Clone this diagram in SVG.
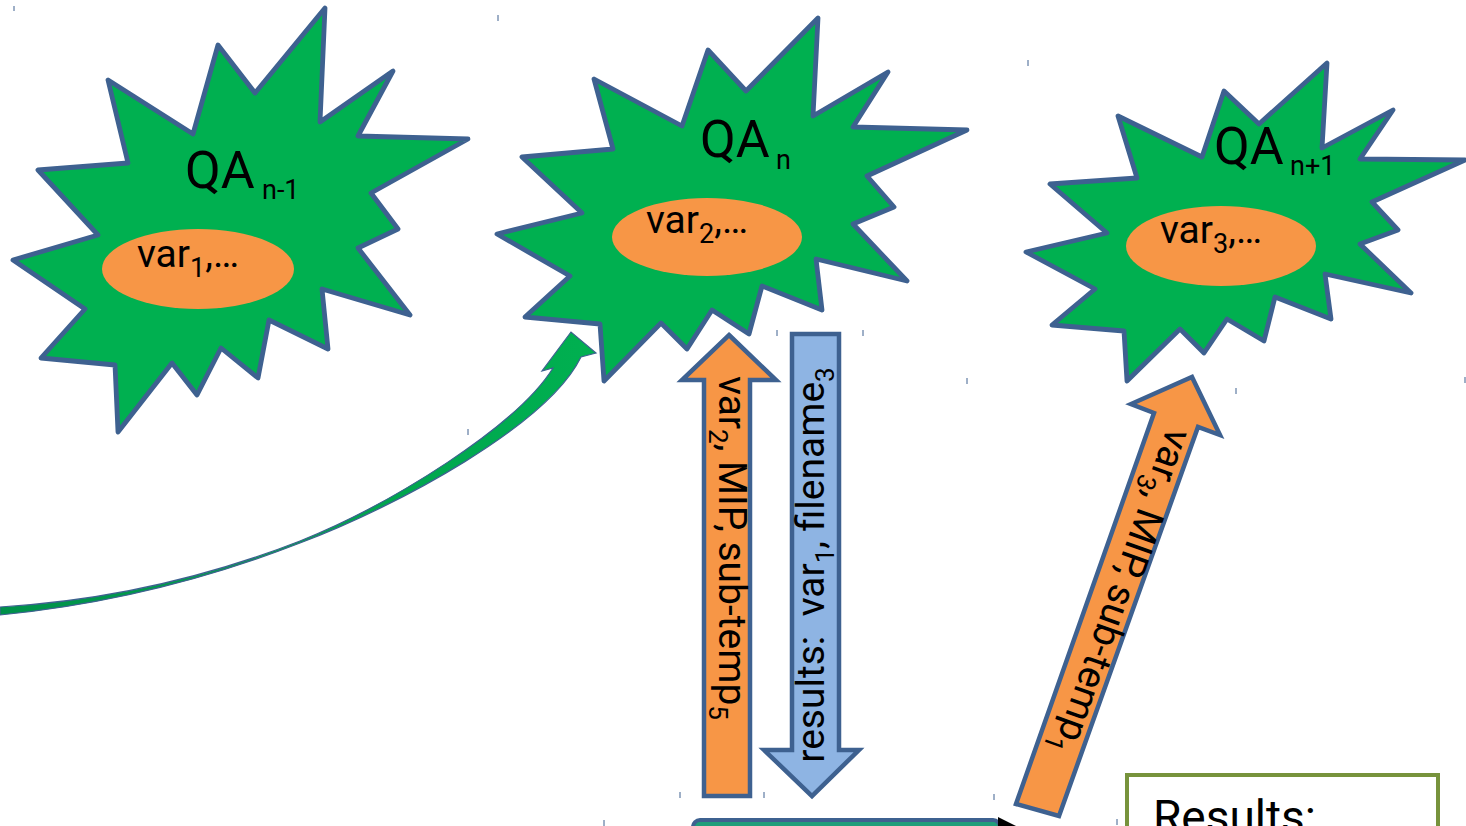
<svg xmlns="http://www.w3.org/2000/svg" width="1466" height="826" viewBox="0 0 1466 826">
<style>
.star{fill:#00b050;stroke:#3e6190;stroke-width:4.8;stroke-linejoin:round}
.oval{fill:#f79646}
.qa{font-family:Roboto,"Liberation Sans",sans-serif;font-size:52px;fill:#000}
.qs{font-family:Roboto,"Liberation Sans",sans-serif;font-size:27px;fill:#000}
.var{font-family:Roboto,"Liberation Sans",sans-serif;font-size:39px;fill:#000}
.lbl{font-family:Roboto,"Liberation Sans",sans-serif;font-size:39px;fill:#000}
.oarrow{fill:#f79646;stroke:#3e6190;stroke-width:4.5;stroke-linejoin:miter}
.barrow{fill:#8eb4e3;stroke:#3e6190;stroke-width:4.5;stroke-linejoin:miter}
.tick{stroke:#3e6190;stroke-width:1}
.otick{stroke:#f79646;stroke-width:1}
</style>
<defs>
<linearGradient id="cg" x1="0" y1="0" x2="1" y2="0">
<stop offset="0" stop-color="#00914a"/>
<stop offset="1" stop-color="#00b050"/>
</linearGradient>
</defs>
<rect width="1466" height="826" fill="#fff"/>

<g id="ticks">
<line class="tick" x1="14" y1="6" x2="14" y2="11"/>
<line class="tick" x1="498" y1="15" x2="498" y2="21"/>
<line class="tick" x1="1028" y1="60" x2="1028" y2="66"/>
<line class="tick" x1="468" y1="429" x2="468" y2="435"/>
<line class="tick" x1="777" y1="330" x2="777" y2="336"/>
<line class="tick" x1="863" y1="330" x2="863" y2="336"/>
<line class="tick" x1="967" y1="378" x2="967" y2="384"/>
<line class="tick" x1="1236" y1="388" x2="1236" y2="394"/>
<line class="tick" x1="1465" y1="377" x2="1465" y2="383"/>
<line class="tick" x1="680" y1="792" x2="680" y2="798"/>
<line class="tick" x1="764" y1="792" x2="764" y2="798"/>
<line class="tick" x1="994" y1="794" x2="994" y2="800"/>
<line class="tick" x1="1117" y1="819" x2="1117" y2="825"/>
<line class="tick" x1="604" y1="820" x2="604" y2="826"/>
<line class="otick" x1="106" y1="229" x2="106" y2="235"/>
<line class="otick" x1="292" y1="305" x2="292" y2="311"/>
<line class="otick" x1="614" y1="196" x2="614" y2="202"/>
<line class="otick" x1="801" y1="272" x2="801" y2="278"/>
<line class="otick" x1="1128" y1="205" x2="1128" y2="211"/>
<line class="otick" x1="1315" y1="280" x2="1315" y2="286"/>
</g>

<g id="qa-n-1">
<polygon class="star" points="325,8 320,122 393,71 358,136 468,139 371,193 398,229 358,248 410,315 322,289 328,349 269,320 258,378 221,348 197,395 172,363 118,432 115,365 41,358 85,309 13,260 98,235 38,170 128,163 108,80 193,134 218,45 255,93"/>
<ellipse class="oval" cx="198" cy="269" rx="96" ry="40"/>
<text class="qa" x="185" y="188">QA</text>
<text class="qs" x="262" y="199">n-1</text>
<text class="var" x="137" y="267">var<tspan font-size="27" dy="10">1</tspan><tspan dy="-10">,…</tspan></text>
</g>

<g id="qa-n">
<polygon class="star" points="818,18 813,116 888,72 853,127 967,130 867,176 894,207 853,224 907,281 816,259 822,310 762,286 749,334 712,310 687,349 661,323 604,381 600,324 525,317 570,276 497,234 582,213 522,157 613,149 594,79 682,126 708,50 746,91"/>
<ellipse class="oval" cx="707" cy="237" rx="95" ry="39"/>
<text class="qa" x="700" y="157">QA</text>
<text class="qs" x="776" y="169">n</text>
<text class="var" x="646" y="233">var<tspan font-size="27" dy="10">2</tspan><tspan dy="-10">,…</tspan></text>
</g>

<g id="qa-n1">
<polygon class="star" points="1327,63 1322,148 1393,110 1360,159 1465,160 1372,202 1398,230 1360,244 1411,293 1325,274 1331,319 1275,297 1264,341 1227,319 1204,353 1180,329 1127,381 1124,331 1052,325 1095,289 1026,252 1107,233 1050,184 1137,178 1118,116 1202,157 1224,91 1259,124"/>
<ellipse class="oval" cx="1221" cy="246" rx="95" ry="40"/>
<text class="qa" x="1214" y="164">QA</text>
<text class="qs" x="1290" y="175">n+1</text>
<text class="var" x="1160" y="243">var<tspan font-size="27" dy="10">3</tspan><tspan dy="-10">,…</tspan></text>
</g>

<g id="results">
<rect x="1127" y="775" width="311" height="80" fill="#fff" stroke="#77933c" stroke-width="4"/>
<text x="1153" y="833" font-family="Roboto,'Liberation Sans',sans-serif" font-size="46" fill="#000">Results:</text>
</g>

<g id="bottom-box">
<rect x="693" y="820" width="307" height="40" rx="7" fill="#1f9e7a" stroke="#3e6190" stroke-width="4"/>
</g>

<g id="connectors">
<path d="M0,607 C100,601 200,580 300,541 C392,504 517,426 553,368 L542,371 L571,332 L596,353 L581,357 C548,425 398,506 300,543 C200,582 100,605 0,615 Z" fill="url(#cg)" stroke="#3e6190" stroke-width="1.2" stroke-linejoin="miter"/>

<polygon class="oarrow" points="729,335 776,380 750,380 750,796 704,796 704,380 682,380"/>
<text class="lbl" text-anchor="middle" transform="translate(719,548) rotate(90)">var<tspan font-size="26" dy="10">2</tspan><tspan dy="-10">, MIP, sub-temp</tspan><tspan font-size="26" dy="10">5</tspan></text>

<polygon class="barrow" points="792,334 839,334 839,750 859,750 812,796 764,750 792,750"/>
<text class="lbl" text-anchor="middle" transform="translate(824,565) rotate(-90)">results:&#160; var<tspan font-size="26" dy="10">1</tspan><tspan dy="-10">, filename</tspan><tspan font-size="26" dy="10">3</tspan></text>

<polygon class="oarrow" points="1192,377 1220,435 1198,427 1059,816 1016,804 1154,413 1131,404"/>
<text class="lbl" text-anchor="middle" transform="translate(1110,588) rotate(109.5)">var<tspan font-size="26" dy="10">3</tspan><tspan dy="-10">, MIP, sub-temp</tspan><tspan font-size="26" dy="10">1</tspan></text>

<polygon points="998,817 1016,826 998,826" fill="#000"/>
</g>
</svg>
